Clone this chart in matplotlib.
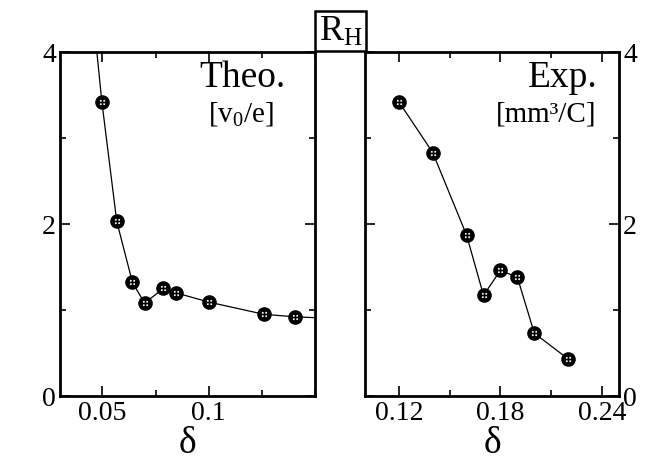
import matplotlib
matplotlib.use('Agg')
import matplotlib.pyplot as plt
from matplotlib.path import Path
from matplotlib.ticker import MultipleLocator

plt.rcParams['font.family'] = ['Liberation Serif', 'DejaVu Serif']
plt.rcParams['mathtext.fontset'] = 'custom'
plt.rcParams['mathtext.rm'] = 'Liberation Serif'
plt.rcParams['mathtext.it'] = 'Liberation Serif:italic'

# theory curve (first and last points lie outside the frame)
theo_d = [0.040, 0.0497, 0.0567, 0.0641, 0.0698, 0.0787, 0.0844, 0.1003, 0.1259, 0.1405, 0.160]
theo_r = [5.80, 3.42, 2.03, 1.32, 1.08, 1.25, 1.20, 1.09, 0.95, 0.92, 0.90]
theo_marked = slice(1, 10)

# experiment
exp_d = [0.120, 0.140, 0.160, 0.170, 0.180, 0.190, 0.200, 0.220]
exp_r = [3.42, 2.83, 1.87, 1.17, 1.46, 1.38, 0.73, 0.43]

# four little white dots inside each black marker
dots = Path.make_compound_path(*[Path.circle((cx, cy), 0.2)
                                 for cx, cy in [(-0.35, 0.35), (0.35, 0.35),
                                                (-0.35, -0.35), (0.35, -0.35)]])

fig = plt.figure(figsize=(6.63, 4.6), dpi=100)
axL = fig.add_axes([0.0905, 0.137, 0.3846, 0.748])
axR = fig.add_axes([0.5505, 0.137, 0.3831, 0.748])


def draw(ax, xs, ys, mx, my):
    ax.plot(xs, ys, color='black', lw=0.9, zorder=2)
    ax.plot(mx, my, 'o', color='black', ms=9.5, zorder=3)
    ax.plot(mx, my, ls='none', marker=dots, color='white', ms=3.8, mew=0, zorder=4)


draw(axL, theo_d, theo_r, theo_d[theo_marked], theo_r[theo_marked])
draw(axR, exp_d, exp_r, exp_d, exp_r)

axL.set_xlim(0.03, 0.15)
axR.set_xlim(0.10, 0.25)
axL.xaxis.set_minor_locator(MultipleLocator(0.025))
axL.set_xticks([0.05, 0.1])
axL.set_xticklabels(['0.05', '0.1'])
axR.xaxis.set_minor_locator(MultipleLocator(0.03))
axR.set_xticks([0.12, 0.18, 0.24])
axR.set_xticklabels(['0.12', '0.18', '0.24'])

for ax in (axL, axR):
    ax.set_ylim(0, 4)
    ax.yaxis.set_major_locator(MultipleLocator(2))
    ax.yaxis.set_minor_locator(MultipleLocator(1))
    ax.tick_params(which='both', direction='in', top=True, bottom=True,
                   left=True, right=True, labelsize=20, width=1.2, pad=3)
    ax.tick_params(which='major', length=7.5)
    ax.tick_params(which='minor', length=4.5)
    for s in ax.spines.values():
        s.set_linewidth(2)
    ax.set_xlabel('δ', fontsize=27, labelpad=0)

axR.tick_params(axis='y', labelleft=False, labelright=True)

axL.text(0.885, 0.90, 'Theo.', transform=axL.transAxes, ha='right',
         va='baseline', fontsize=27)
axL.text(0.84, 0.80, '[v$_0$/e]', transform=axL.transAxes, ha='right',
         va='baseline', fontsize=21)
axR.text(0.915, 0.90, 'Exp.', transform=axR.transAxes, ha='right',
         va='baseline', fontsize=27)
axR.text(0.91, 0.80, '[mm³/C]', transform=axR.transAxes, ha='right',
         va='baseline', fontsize=21)

fig.text(0.5135, 0.93, 'R$_\\mathrm{H}$', ha='center', va='center', fontsize=26,
         bbox=dict(boxstyle='square,pad=0.1', fc='white', ec='black', lw=1.8))

fig.savefig('out.png', dpi=100)
